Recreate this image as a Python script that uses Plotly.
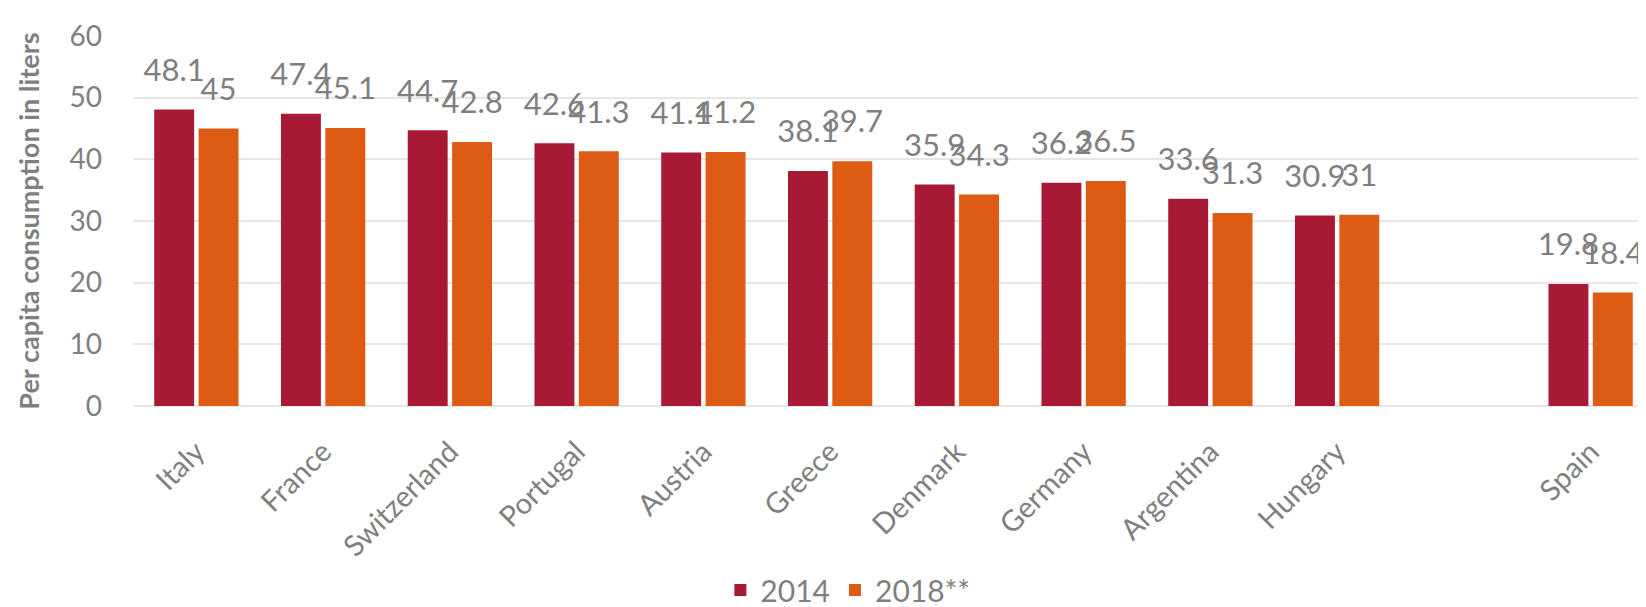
import plotly.graph_objects as go

categories = ["Italy", "France", "Switzerland", "Portugal", "Austria", "Greece",
              "Denmark", "Germany", "Argentina", "Hungary", " ", "Spain"]
values_2014 = [48.1, 47.4, 44.7, 42.6, 41.1, 38.1, 35.9, 36.2, 33.6, 30.9, None, 19.8]
values_2018 = [45, 45.1, 42.8, 41.3, 41.2, 39.7, 34.3, 36.5, 31.3, 31, None, 18.4]
series_names = ["2014", "2018**"]
y_ticks = [0, 10, 20, 30, 40, 50, 60]

C1 = "#A71935"
C2 = "#DD5B12"
GRAY = "#7F7F7F"
FONT = "Lato, 'Open Sans', sans-serif"


def fmt(v):
    return "" if v is None else ("%g" % v)


fig = go.Figure()
for name, vals, col, grp in [(series_names[0], values_2014, C1, "a"),
                             (series_names[1], values_2018, C2, "b")]:
    fig.add_trace(go.Bar(x=categories, y=vals, name=name, marker_color=col,
                         marker_line_width=0, offsetgroup=grp, hoverinfo="skip"))
for vals, grp in [(values_2014, "a"), (values_2018, "b")]:
    fig.add_trace(go.Scatter(x=categories, y=vals, mode="markers+text",
                             text=[fmt(v) for v in vals], textposition="top center",
                             textfont=dict(size=31, color=GRAY, family=FONT),
                             marker=dict(size=32, opacity=0), offsetgroup=grp,
                             showlegend=False, cliponaxis=False, hoverinfo="skip"))

fig.update_layout(
    width=1646, height=607,
    margin=dict(l=125, r=0, t=28, b=209, autoexpand=False),
    paper_bgcolor="white", plot_bgcolor="white",
    font=dict(family=FONT, color=GRAY, size=28),
    barmode="group", bargap=0.3, bargroupgap=0.1,
    scattermode="group", scattergap=0.3,
    showlegend=True,
    legend=dict(orientation="h", x=0.47, xanchor="center", y=-0.497, yanchor="middle",
                font=dict(size=30, color=GRAY, family=FONT), traceorder="normal",
                itemwidth=30),
    xaxis=dict(type="category", categoryorder="array", categoryarray=categories,
               range=[-0.5, len(categories) - 0.5], tickangle=-45,
               tickfont=dict(size=29, color=GRAY), showgrid=False,
               showline=False, zeroline=False, ticklabelstandoff=22, automargin=False),
    yaxis=dict(range=[0, 60], tickvals=y_ticks, ticktext=[str(t) for t in y_ticks],
               tickfont=dict(size=28, color=GRAY), showgrid=True,
               gridcolor="#E6E6E6", gridwidth=2, zeroline=True, zerolinecolor="#E6E6E6",
               zerolinewidth=2, showline=False, ticklabelstandoff=30, automargin=False,
               title=dict(text="<b>Per capita consumption in liters</b>",
                          font=dict(size=27, color=GRAY), standoff=22)),
)

fig.write_html("out.html")
